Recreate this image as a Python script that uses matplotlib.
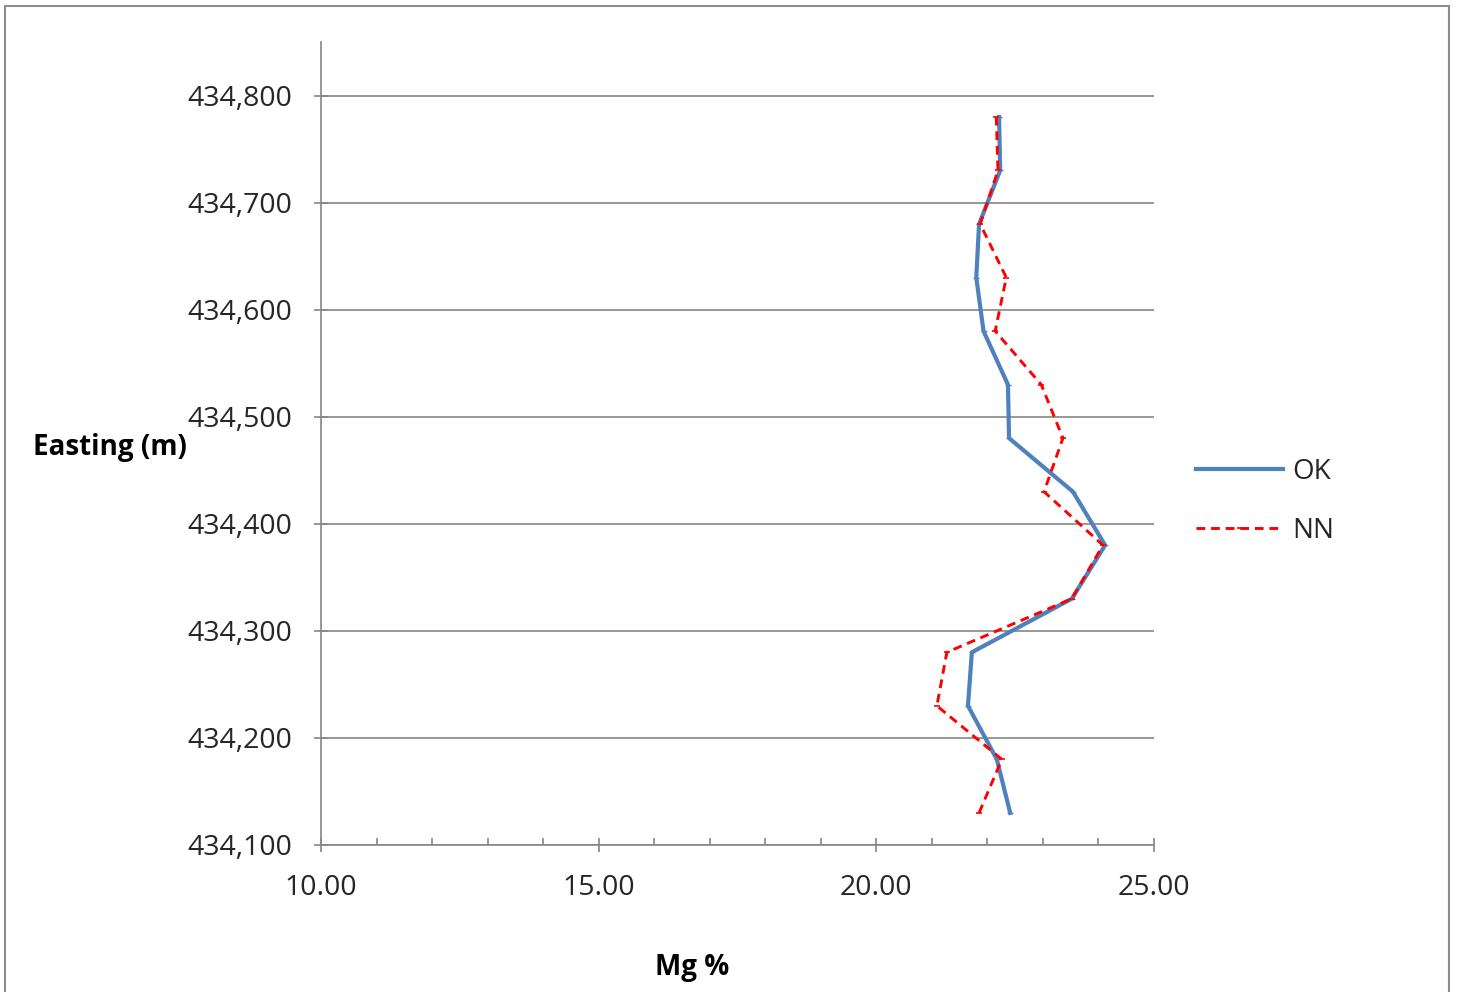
import matplotlib
matplotlib.use("Agg")
import matplotlib.pyplot as plt
import matplotlib.patches as mpatches
from matplotlib.ticker import FuncFormatter, MultipleLocator

# ── Data ────────────────────────────────────────────────────────────────────
easting = [434130, 434180, 434230, 434280, 434330, 434380, 434430,
           434480, 434530, 434580, 434630, 434680, 434730, 434780]
mg_ok = [22.41, 22.17, 21.65, 21.72, 23.52, 24.12, 23.54,
         22.39, 22.37, 21.93, 21.80, 21.85, 22.23, 22.21]
mg_nn = [21.85, 22.26, 21.09, 21.27, 23.52, 24.08, 23.02,
         23.36, 22.97, 22.14, 22.34, 21.87, 22.19, 22.16]

OK_C = "#4F81BD"
NN_C = "#FF0000"
GRID = "#868686"
TXT = "#262626"

plt.rcParams["font.family"] = ["Open Sans", "DejaVu Sans"]

fig = plt.figure(figsize=(14.58, 9.92), dpi=100, facecolor="white")
ax = fig.add_axes([321 / 1458, 1 - 845 / 992, (1154 - 321) / 1458, (845 - 42) / 992])

ax.plot(mg_ok, easting, color=OK_C, lw=3.0, label="OK", zorder=3,
        marker="_", ms=4, mew=1)
ax.plot(mg_nn, easting, color=NN_C, lw=2.1, ls=(0, (3, 2)), label="NN", zorder=4,
        marker="_", ms=5, mew=1.2)

ax.set_xlim(10, 25)
ax.set_ylim(434100, 434850)
ax.set_xticks([10, 15, 20, 25])
ax.xaxis.set_minor_locator(MultipleLocator(1))
ax.set_yticks(range(434100, 434801, 100))
ax.xaxis.set_major_formatter(FuncFormatter(lambda v, p: f"{v:.2f}"))
ax.yaxis.set_major_formatter(FuncFormatter(lambda v, p: f"{int(v):,}"))

ax.grid(axis="y", color=GRID, lw=1.2)
ax.set_axisbelow(True)
for s in ["top", "right"]:
    ax.spines[s].set_visible(False)
for s in ["left", "bottom"]:
    ax.spines[s].set_color(GRID)
    ax.spines[s].set_linewidth(1.2)

ax.tick_params(axis="both", which="major", direction="inout", length=10,
               color=GRID, width=1.2, labelsize=20.5, labelcolor=TXT)
ax.tick_params(axis="x", which="minor", direction="in", length=5,
               color=GRID, width=1.2)
ax.tick_params(axis="x", which="major", pad=16)
ax.tick_params(axis="y", which="major", pad=16)

fig.text(33 / 1458, 1 - 448 / 992, "Easting (m)", fontsize=20, fontweight="bold",
         color="black", ha="left", va="center")
fig.text(692 / 1458, 1 - 967 / 992, "Mg %", fontsize=20, fontweight="bold",
         color="black", ha="center", va="center")

leg = ax.legend(loc="center left", bbox_to_anchor=(1.021, 0.428), frameon=False,
                fontsize=20, handlelength=3.1, handletextpad=0.36, labelspacing=1.1)
for t in leg.get_texts():
    t.set_color(TXT)

# chart border
fig.patches.append(mpatches.Rectangle((5 / 1458, -0.01), (1449 - 5) / 1458, 1 - 6 / 992 + 0.01,
                                      transform=fig.transFigure, fill=False,
                                      edgecolor="#8C8C8C", lw=1.5))

fig.savefig("out.png", dpi=100, facecolor="white")
